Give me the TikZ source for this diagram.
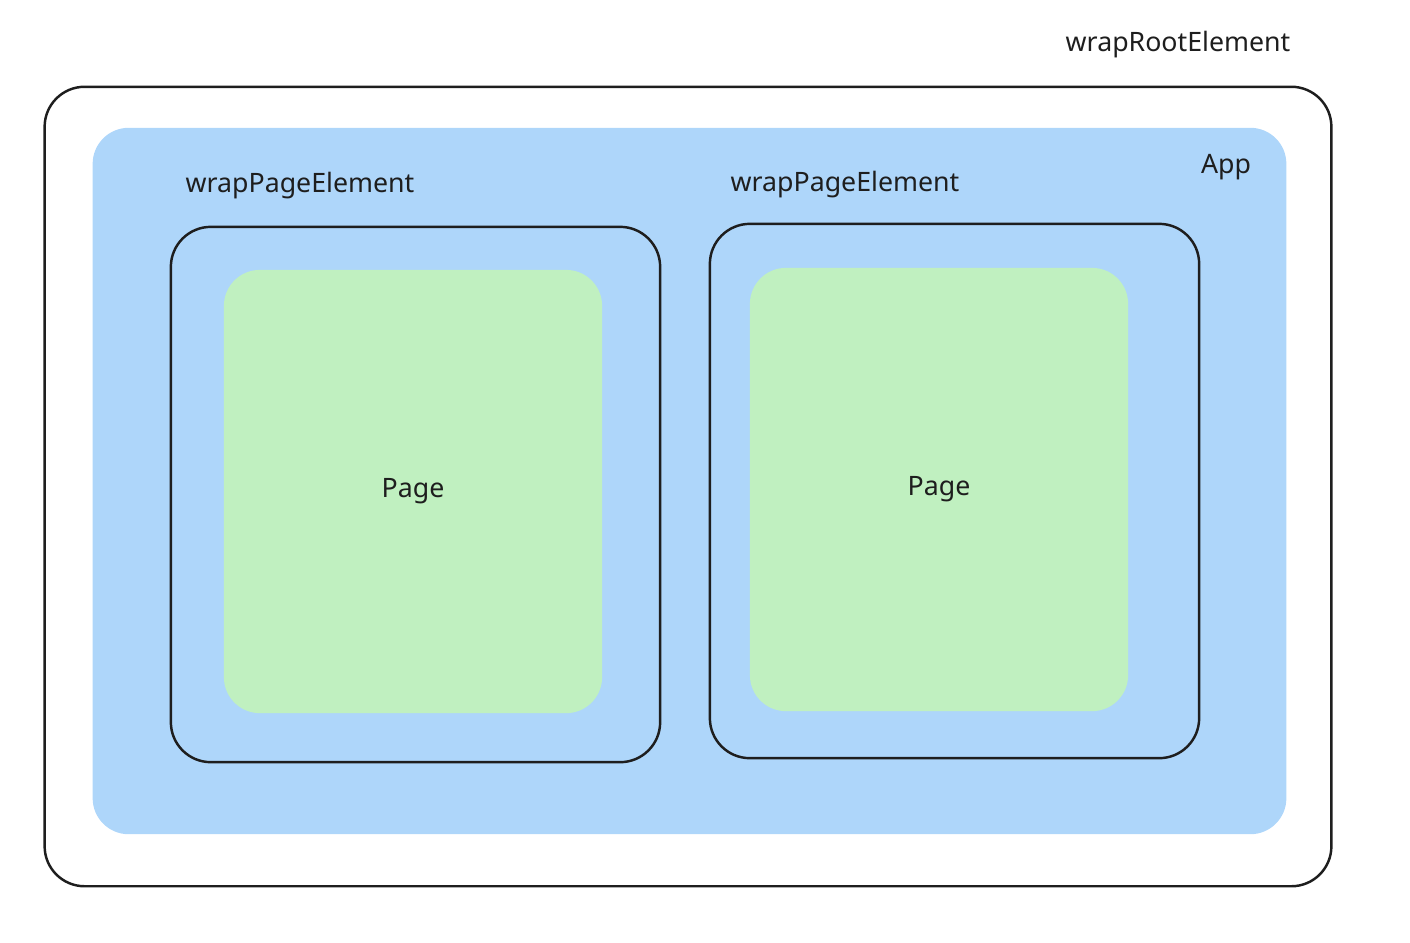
\documentclass[tikz,border=0pt]{standalone}
\usepackage{fontspec}
\setmainfont{Noto Sans}
\usetikzlibrary{positioning}
\definecolor{appblue}{RGB}{174,214,250}
\definecolor{pagegreen}{RGB}{192,240,192}
\definecolor{inkblack}{RGB}{30,30,30}

\begin{document}
\begin{tikzpicture}[x=0.01cm, y=-0.01cm,
  font=\fontsize{7.6}{9}\selectfont, text=inkblack,
  wrapbox/.style={draw=inkblack, line width=0.7pt, rounded corners=0.4cm,
    inner sep=0pt, outer sep=0pt},
  appbox/.style={fill=appblue, rounded corners=0.36cm, inner sep=0pt},
  pagebox/.style={fill=pagegreen, rounded corners=0.36cm, inner sep=0pt,
    minimum width=3.78cm, minimum height=4.43cm}]
\useasboundingbox (0,0) rectangle (1410,942);
% wrapRootElement
\node[wrapbox, minimum width=12.86cm, minimum height=7.99cm] (root) at (688,486.5) {};
\node (rootlbl) at (1178,45) {wrapRootElement};
% App
\node[appbox, minimum width=11.93cm, minimum height=7.06cm] (app) at (689.5,481) {};
\node (applbl) at (1226,167) {App};
% LEFT: wrapPageElement
\node (leftlbl) at (300,186) {wrapPageElement};
\node[wrapbox, minimum width=4.89cm, minimum height=5.35cm] (leftwrap) at (415.5,494.5) {};
\node[pagebox] (leftpage) at (413,491.5) {Page};
% RIGHT: wrapPageElement
\node (rightlbl) at (845,185) {wrapPageElement};
\node[wrapbox, minimum width=4.89cm, minimum height=5.34cm] (rightwrap) at (954.5,491) {};
\node[pagebox] (rightpage) at (939,489.5) {Page};
\end{tikzpicture}
\end{document}
